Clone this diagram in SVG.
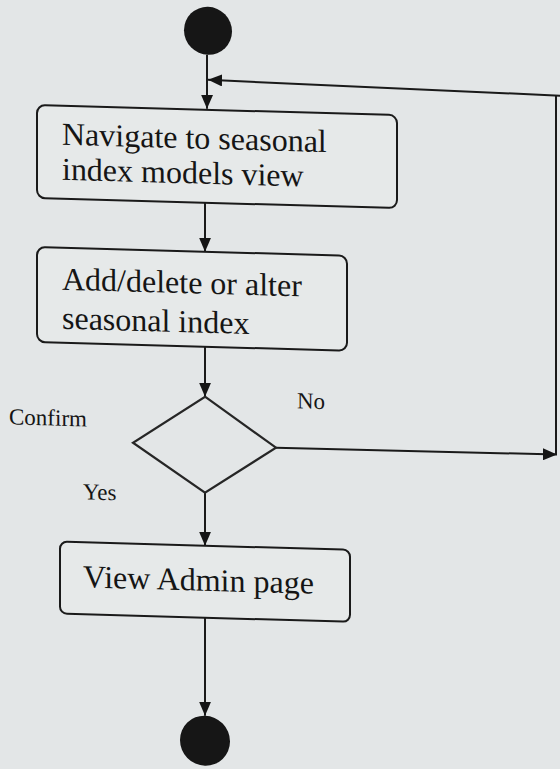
<svg xmlns="http://www.w3.org/2000/svg" width="560" height="769" viewBox="0 0 560 769">
  <defs>
    <marker id="arrow" viewBox="0 0 14 12" refX="14" refY="6" markerWidth="14" markerHeight="12" markerUnits="userSpaceOnUse" orient="auto">
      <path d="M0,0 L14,6 L0,12 z" fill="#151515"/>
    </marker>
    <style>
      .bg { fill: #e3e6e7; }
      .act { fill: #e6e9e9; stroke: #1a1a1a; stroke-width: 2; }
      .dec { fill: none; stroke: #262626; stroke-width: 2.2; }
      .dot { fill: #161616; }
      .edge { fill: none; stroke: #1a1a1a; stroke-width: 2; marker-end: url(#arrow); }
      .plain { fill: none; stroke: #1a1a1a; stroke-width: 2; }
      .big { font-family: "Liberation Serif", "Times New Roman", serif; font-size: 32px; fill: #151515; }
      .small { font-family: "Liberation Serif", "Times New Roman", serif; font-size: 23px; fill: #151515; }
    </style>
  </defs>

  <rect class="bg" x="0" y="0" width="560" height="769"/>

  <!-- whole chart is drawn on a slight slope -->
  <g transform="skewY(1.6)">
    <g id="edges">
      <line class="edge" x1="207" y1="49" x2="207" y2="103"/>
      <line class="edge" x1="205" y1="197" x2="205" y2="246"/>
      <line class="edge" x1="205" y1="341" x2="205" y2="391"/>
      <line class="edge" x1="205" y1="487" x2="205" y2="540"/>
      <line class="edge" x1="205" y1="612" x2="205" y2="710"/>
      <!-- "No" branch loops back to the first activity -->
      <line class="edge" x1="276" y1="440" x2="557" y2="439"/>
      <line class="plain" x1="556" y1="439" x2="556" y2="80"/>
      <line class="edge" x1="560" y1="80" x2="208" y2="74"/>
    </g>

    <g id="start">
      <circle class="dot" cx="208" cy="25" r="24"/>
    </g>

    <g id="navigate">
      <rect class="act" x="37" y="104" width="360" height="93" rx="8"/>
      <text class="big" x="62" y="143">Navigate to seasonal</text>
      <text class="big" x="62" y="178">index models view</text>
    </g>

    <g id="edit">
      <rect class="act" x="37" y="246" width="310" height="95" rx="8"/>
      <text class="big" x="62" y="288">Add/delete or alter</text>
      <text class="big" x="62" y="327">seasonal index</text>
    </g>

    <g id="confirm">
      <polygon class="dec" points="205,391 276,440 205,487 133,439"/>
      <text class="small" x="9" y="424">Confirm</text>
      <text class="small" x="297" y="400">No</text>
      <text class="small" x="83" y="497">Yes</text>
    </g>

    <g id="admin">
      <rect class="act" x="60" y="540" width="290" height="72" rx="7"/>
      <text class="big" x="83" y="585">View Admin page</text>
    </g>

    <g id="end">
      <circle class="dot" cx="205" cy="735" r="25"/>
    </g>
  </g>
</svg>
